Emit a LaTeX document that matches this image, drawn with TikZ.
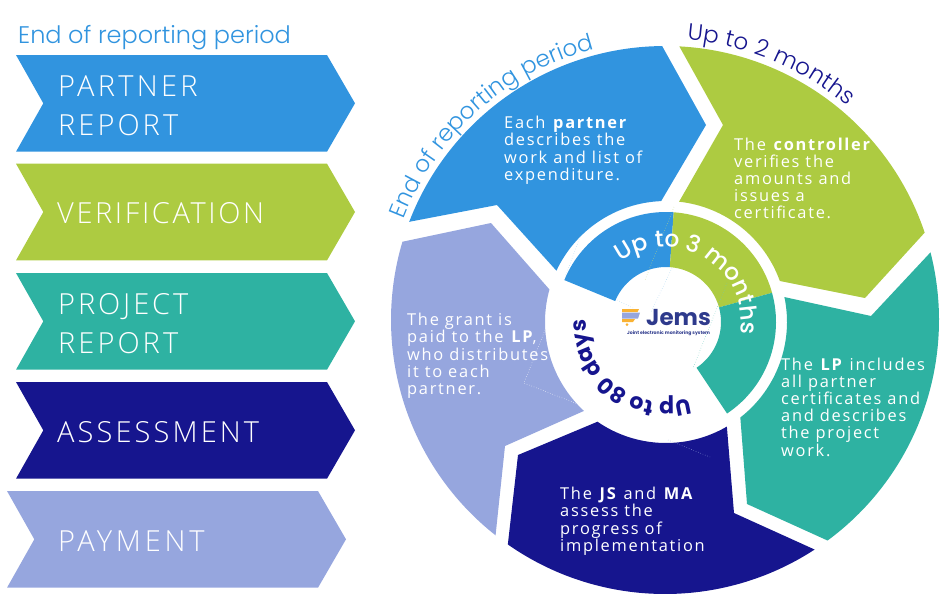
\documentclass[tikz,border=0pt]{standalone}
\usepackage{fontspec}
\usetikzlibrary{decorations.text,calc}
\setmainfont{Open Sans}
\newfontfamily\bodyf[LetterSpace=10.5]{Open Sans}
\IfFontExistsTF{Open Sans Light}{\newfontfamily\capsf{Open Sans Light}}{\newfontfamily\capsf{Open Sans}}
\IfFontExistsTF{Poppins Light}{\newfontfamily\curvef{Poppins Light}}{\newfontfamily\curvef{Poppins}}
\IfFontExistsTF{Poppins Medium}{\newfontfamily\ringf{Poppins Medium}}{\newfontfamily\ringf{Poppins}}
\newfontfamily\logof{Poppins}
\definecolor{cblue}{HTML}{3194DF}
\definecolor{cgreen}{HTML}{ADCB41}
\definecolor{cteal}{HTML}{2EB2A2}
\definecolor{cdark}{HTML}{16158E}
\definecolor{clav}{HTML}{96A6DE}
\definecolor{clogo}{HTML}{2E3A8C}
\definecolor{cyel}{HTML}{F9B233}
\definecolor{cdot}{HTML}{A8D4F0}
\tikzset{
  x=1pt,y=-1pt,
  capslabel/.style={anchor=base west,inner sep=0pt,text=white,font=\capsf\fontsize{29}{39}\selectfont\addfontfeature{LetterSpace=#1}},
  body/.style={anchor=north west,inner sep=0pt,text=white,align=left,font=\bodyf\fontsize{16.4}{17.2}\selectfont},
  faint/.style={line width=0.5pt,dotted},
  curved/.style n args={3}{decorate,decoration={text along path,text align={fit to path},text color=#1,text={|#2|#3}}},
}
\newcommand{\chev}[3]{%
  \fill[#3] (#1+16,#2) -- (#1+327,#2) -- (#1+355,#2+48.3) -- (#1+327,#2+96.7) -- (#1+16,#2+96.7) -- (#1+43.3,#2+48.3) -- cycle;}
\begin{document}
\begin{tikzpicture}
\useasboundingbox (0,0) rectangle (945,598);
\coordinate (co) at (665,320);
\coordinate (ci) at (666,322);
% left column
\node[anchor=base west,inner sep=0pt,text=cblue,font=\curvef\fontsize{24}{28}\selectfont] (heading) at (18,43) {End of reporting period};
\chev{0}{55}{cblue}
\chev{0}{163.7}{cgreen}
\chev{0}{273}{cteal}
\chev{0}{382}{cdark}
\chev{-9}{491}{clav}
\node[capslabel=11.5] (l1a) at (58,96) {PARTNER};
\node[capslabel=10.5] (l1b) at (58,135) {REPORT};
\node[capslabel=9] (l2) at (57,223) {VERIFICATION};
\node[capslabel=10] (l3a) at (58,314) {PROJECT};
\node[capslabel=10.5] (l3b) at (58,353) {REPORT};
\node[capslabel=10.8] (l4) at (57,442.7) {ASSESSMENT};
\node[capslabel=13] (l5) at (58,551.7) {PAYMENT};
% big segments
\fill[cblue] ($(co)+(-159:274)$) arc[start angle=-159,end angle=-90.6,radius=274] -- (706,125) -- ($(ci)+(-92.3:121)$) arc[start angle=-92.3,end angle=-154.9,radius=121] -- (497,205) -- cycle;
\fill[cgreen] ($(co)+(-87:274)$) arc[start angle=-87,end angle=-18.6,radius=274] -- (865,298) -- ($(ci)+(-19.8:121)$) arc[start angle=-19.8,end angle=-83.8,radius=121] -- (723,125) -- cycle;
\fill[cteal] ($(co)+(-14.3:274)$) arc[start angle=-14.3,end angle=53.6,radius=274] -- (747,504) -- ($(ci)+(52.1:121)$) arc[start angle=52.1,end angle=-11.9,radius=121] -- (871,316) -- cycle;
\fill[cdark] ($(co)+(56.9:274)$) arc[start angle=56.9,end angle=125,radius=274] -- (518,455) -- ($(ci)+(124.5:121)$) arc[start angle=124.5,end angle=59.8,radius=121] -- (734,513) -- cycle;
\fill[clav] ($(co)+(128.2:274)$) arc[start angle=128.2,end angle=196.6,radius=274] -- (491,223) -- ($(ci)+(195.6:121)$) arc[start angle=195.6,end angle=132.7,radius=121] -- (505,446) -- cycle;
% inner ring
\fill[cblue] ($(ci)+(-157.6:110)$) arc[start angle=-157.6,end angle=-86,radius=110] -- ($(ci)+(-86:55)$) arc[start angle=-86,end angle=-157.6,radius=55] -- cycle;
\fill[cgreen] ($(ci)+(-86:110)$) arc[start angle=-86,end angle=-15.4,radius=110] -- ($(ci)+(-15.4:55)$) arc[start angle=-15.4,end angle=-86,radius=55] -- cycle;
\fill[cteal] ($(ci)+(-15.4:110)$) arc[start angle=-15.4,end angle=56.3,radius=110] -- ($(ci)+(56.3:55)$) arc[start angle=56.3,end angle=-15.4,radius=55] -- cycle;
% faint dotted lines
\draw[faint,cdot] (580,237) -- (564,280);
\draw[faint,cgreen!70!white] (674,207) -- (645,280);
\draw[faint,cdot] (672,268) -- (651,312);
\draw[faint,cdot] (617,300) -- (633,308);
\draw[faint,cteal!70!white] (727,283) -- (693,368);
\draw[faint,white] (545,330) -- (524,383) -- (580,405);
\draw[faint,clav] (668,440) -- (710,457);
% curved captions
\path[curved={cblue}{\curvef\fontsize{23.2}{24}\selectfont}{End of reporting period}] ($(co)+(-159:280)$) arc[start angle=-159,end angle=-104.5,radius=280];
\path[curved={cdark}{\curvef\fontsize{23}{24}\selectfont}{Up to 2 months}] ($(co)+(-85.5:281)$) arc[start angle=-85.5,end angle=-49.5,radius=281];
\path[curved={white}{\ringf\fontsize{23.3}{24}\selectfont}{Up to 3 months}] ($(ci)+(-127:75)$) arc[start angle=-127,end angle=5,radius=75];
\path[curved={cdark}{\logof\bfseries\fontsize{22}{22}\selectfont}{Up to 80 days}] ($(ci)+(73:80)$) arc[start angle=73,end angle=178,radius=80];
% body texts
\node[body] (t1) at (504,116) {Each \textbf{partner}\\describes the\\work and list of\\expenditure.};
\node[body] (t2) at (734,137.5) {The \textbf{controller}\\verifies the\\amounts and\\issues a\\certificate.};
\node[body] (t3) at (781,357.5) {The \textbf{LP} includes\\all partner\\certificates and\\and describes\\the project\\work.};
\node[body] (t4) at (560,487) {The \textbf{JS} and \textbf{MA}\\assess the\\progress of\\implementation};
\node[body] (t5) at (407,313) {The grant is\\paid to the \textbf{LP},\\who distributes\\it to each\\partner.};
% logo
\fill[cyel] (622,309) -- (639,309) -- (637.5,312) -- (622,312) -- cycle;
\fill[clav] (622,312.5) -- (640,312.5) -- (638,318.5) -- (622,318.5) -- cycle;
\fill[cyel] (622,319) -- (635,319) -- (633,322) -- (622,322) -- cycle;
\fill[cyel] (627,324.5) circle[radius=1.5];
\node[anchor=base west,inner sep=0pt,text=clogo,font=\logof\bfseries\fontsize{23}{23}\selectfont] (jems) at (646,325) {Jems};
\node[anchor=base west,inner sep=0pt,text=clogo,font=\logof\bfseries\fontsize{4.6}{6}\selectfont] (tag) at (627,334) {Joint electronic monitoring system};
\end{tikzpicture}
\end{document}
